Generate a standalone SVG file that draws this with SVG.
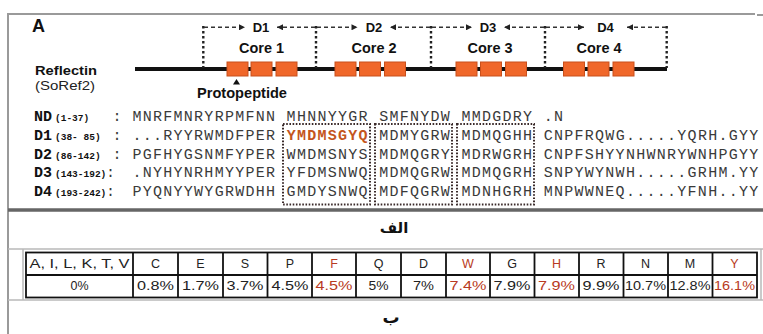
<svg xmlns="http://www.w3.org/2000/svg" width="763" height="334" viewBox="0 0 763 334">
<defs>
<style>
.frame{stroke:#9a9a9a;stroke-width:2;fill:none}
.sep{stroke:#666;stroke-width:3.5}
.thin{stroke:#b8b8b8;stroke-width:1.5}
.lbl{font-family:"Liberation Sans",Arial,sans-serif;font-weight:bold;fill:#111}
.reg{font-family:"Liberation Sans",Arial,sans-serif;fill:#222}
.blk{fill:#f0672a;stroke:#c8501c;stroke-width:1}
.dash{stroke:#333;stroke-width:1.4;stroke-dasharray:4 3;fill:none}
.dot{stroke:#222;stroke-width:2.4;stroke-dasharray:2.4 2.6;fill:none}
.box{stroke:#3a2a2a;stroke-width:2;stroke-dasharray:1.6 1.6;fill:none}
.seq{font-family:"Liberation Mono","Courier New",monospace;font-size:15px;letter-spacing:1.28px;fill:#3a3a3a}
.hl{font-weight:bold;fill:#c4551c}
.rowl{font-family:"Liberation Mono","Courier New",monospace;font-weight:bold;fill:#111}
.cell{stroke:#111;stroke-width:1.8;fill:none}
.tt{font-family:"Liberation Sans",Arial,sans-serif;font-size:12.5px;fill:#222;text-anchor:middle}
.red{fill:#b83a22}
.ar{font-family:"DejaVu Sans","Noto Sans",sans-serif;font-weight:bold;fill:#111}
</style>
<marker id="ah" viewBox="0 0 10 10" refX="10" refY="5" markerWidth="8" markerHeight="6" markerUnits="userSpaceOnUse" orient="auto">
<path d="M0,0 L10,5 L0,10 Z" fill="#222"/>
</marker>
</defs>

<g id="frame">
<line class="frame" x1="8" y1="14" x2="755" y2="14"/>
<line class="frame" x1="757" y1="15" x2="763" y2="15"/>
<line class="frame" x1="8" y1="13" x2="8" y2="334"/>
<line class="sep" x1="8" y1="210" x2="763" y2="210"/>
<line class="thin" x1="8" y1="249" x2="763" y2="249"/>
<line class="thin" x1="8" y1="300" x2="763" y2="300"/>
</g>

<g id="panel-label">
<text class="lbl" x="32" y="32" font-size="18">A</text>
<text class="lbl" x="35" y="74.5" font-size="13" textLength="62" lengthAdjust="spacingAndGlyphs">Reflectin</text>
<text class="reg" x="35" y="90" font-size="13" textLength="60" lengthAdjust="spacingAndGlyphs">(SoRef2)</text>
</g>

<g id="protein-map">
<line x1="135" y1="69" x2="667" y2="69" stroke="#111" stroke-width="4"/>
<rect class="blk" x="227" y="62" width="21" height="14"/>
<rect class="blk" x="251" y="62" width="21" height="14"/>
<rect class="blk" x="276" y="62" width="21" height="14"/>
<rect class="blk" x="335" y="62" width="21" height="14"/>
<rect class="blk" x="359.5" y="62" width="21" height="14"/>
<rect class="blk" x="384.5" y="62" width="21" height="14"/>
<rect class="blk" x="456" y="62" width="21" height="14"/>
<rect class="blk" x="480.5" y="62" width="21" height="14"/>
<rect class="blk" x="505.5" y="62" width="21" height="14"/>
<rect class="blk" x="563.5" y="62" width="21" height="14"/>
<rect class="blk" x="588" y="62" width="21" height="14"/>
<rect class="blk" x="613" y="62" width="21" height="14"/>
<path d="M236.5,79 L240,84.5 L233,84.5 Z" fill="#111"/>
<text class="lbl" x="242" y="98" font-size="14" text-anchor="middle" textLength="90" lengthAdjust="spacingAndGlyphs">Protopeptide</text>
</g>

<g id="domain-labels">
<text class="lbl" x="261" y="31.7" font-size="13" text-anchor="middle">D1</text>
<text class="lbl" x="374" y="31.7" font-size="13" text-anchor="middle">D2</text>
<text class="lbl" x="488" y="31.7" font-size="13" text-anchor="middle">D3</text>
<text class="lbl" x="605.5" y="31.7" font-size="13" text-anchor="middle">D4</text>
<text class="lbl" x="261.5" y="53.3" font-size="14" text-anchor="middle" textLength="45" lengthAdjust="spacingAndGlyphs">Core 1</text>
<text class="lbl" x="374" y="53.3" font-size="14" text-anchor="middle" textLength="45" lengthAdjust="spacingAndGlyphs">Core 2</text>
<text class="lbl" x="490" y="53.3" font-size="14" text-anchor="middle" textLength="45" lengthAdjust="spacingAndGlyphs">Core 3</text>
<text class="lbl" x="599" y="53.3" font-size="14" text-anchor="middle" textLength="45" lengthAdjust="spacingAndGlyphs">Core 4</text>
</g>

<g id="connectors">
<line class="dot" x1="203.3" y1="26" x2="203.3" y2="68"/>
<line class="dot" x1="316" y1="26" x2="316" y2="68"/>
<line class="dot" x1="431" y1="26" x2="431" y2="68"/>
<line class="dot" x1="545" y1="26" x2="545" y2="68"/>
<line class="dot" x1="666.7" y1="26" x2="666.7" y2="68"/>
<line class="dash" x1="204" y1="27.3" x2="245" y2="27.3" marker-end="url(#ah)"/>
<line class="dash" x1="315" y1="27.3" x2="277" y2="27.3" marker-end="url(#ah)"/>
<line class="dash" x1="317" y1="27.3" x2="357.5" y2="27.3" marker-end="url(#ah)"/>
<line class="dash" x1="430" y1="27.3" x2="390" y2="27.3" marker-end="url(#ah)"/>
<line class="dash" x1="432" y1="27.3" x2="472" y2="27.3" marker-end="url(#ah)"/>
<line class="dash" x1="544" y1="27.3" x2="504" y2="27.3" marker-end="url(#ah)"/>
<line class="dash" x1="546" y1="27.3" x2="584" y2="27.3" marker-end="url(#ah)"/>
<line class="dash" x1="666" y1="27.3" x2="627" y2="27.3" marker-end="url(#ah)"/>
</g>

<g id="sequences">
<text class="rowl" x="34" y="121" font-size="15">ND</text><text class="rowl" x="55" y="121" font-size="9.5">(1-37)</text>
<text class="rowl" x="34" y="139.5" font-size="15">D1</text><text class="rowl" x="55" y="139.5" font-size="9.5" xml:space="preserve">(38- 85)</text>
<text class="rowl" x="34" y="158.5" font-size="15">D2</text><text class="rowl" x="55" y="158.5" font-size="9.5">(86-142)</text>
<text class="rowl" x="34" y="177" font-size="15">D3</text><text class="rowl" x="55" y="177" font-size="9.5">(143-192)</text>
<text class="rowl" x="34" y="196" font-size="15">D4</text><text class="rowl" x="55" y="196" font-size="9.5">(193-242)</text>
<text class="seq" x="112.5" y="121">:</text>
<text class="seq" x="112.5" y="139.5">:</text>
<text class="seq" x="112.5" y="158.5">:</text>
<text class="seq" x="106" y="177">:</text>
<text class="seq" x="106" y="196">:</text>
<text class="seq" x="132.4" y="121">MNRFMNRYRPMFNN MHNNYYGR SMFNYDW MMDGDRY .N</text>
<text class="seq" x="132.4" y="139.5">...RYYRWMDFPER <tspan class="hl">YMDMSGYQ</tspan> MDMYGRW MDMQGHH CNPFRQWG.....YQRH.GYY</text>
<text class="seq" x="132.4" y="158.5">PGFHYGSNMFYPER WMDMSNYS MDMQGRY MDRWGRH CNPFSHYYNHWNRYWNHPGYY</text>
<text class="seq" x="132.4" y="177">.NYHYNRHMYYPER YFDMSNWQ MDMQGRW MDMQGRH SNPYWYNWH.....GRHM.YY</text>
<text class="seq" x="132.4" y="196">PYQNYYWYGRWDHH GMDYSNWQ MDFQGRW MDNHGRH MNPWWNEQ.....YFNH..YY</text>
<rect class="box" x="283" y="124" width="87" height="80.5"/>
<rect class="box" x="375" y="124" width="77" height="80.5"/>
<rect class="box" x="457" y="124" width="77" height="80.5"/>
</g>

<g id="caption-a">
<text class="ar" x="394" y="233" font-size="15" text-anchor="middle">الف</text>
</g>

<g id="table">
<line class="thin" x1="23" y1="249" x2="23" y2="300"/>
<line class="thin" x1="761" y1="249" x2="761" y2="300"/>
<rect class="cell" x="26" y="252.5" width="731" height="45"/>
<line class="cell" x1="26" y1="275" x2="757" y2="275"/>
<line class="cell" x1="133" y1="252.5" x2="133" y2="297.5"/>
<line class="cell" x1="178" y1="252.5" x2="178" y2="297.5"/>
<line class="cell" x1="223" y1="252.5" x2="223" y2="297.5"/>
<line class="cell" x1="267.5" y1="252.5" x2="267.5" y2="297.5"/>
<line class="cell" x1="312" y1="252.5" x2="312" y2="297.5"/>
<line class="cell" x1="356" y1="252.5" x2="356" y2="297.5"/>
<line class="cell" x1="401" y1="252.5" x2="401" y2="297.5"/>
<line class="cell" x1="446" y1="252.5" x2="446" y2="297.5"/>
<line class="cell" x1="490" y1="252.5" x2="490" y2="297.5"/>
<line class="cell" x1="534.5" y1="252.5" x2="534.5" y2="297.5"/>
<line class="cell" x1="579" y1="252.5" x2="579" y2="297.5"/>
<line class="cell" x1="623.5" y1="252.5" x2="623.5" y2="297.5"/>
<line class="cell" x1="668" y1="252.5" x2="668" y2="297.5"/>
<line class="cell" x1="712.5" y1="252.5" x2="712.5" y2="297.5"/>
<text class="tt" x="79.5" y="268" textLength="100" lengthAdjust="spacingAndGlyphs">A, I, L, K, T, V</text>
<text class="tt" x="155.5" y="268">C</text>
<text class="tt" x="200.5" y="268">E</text>
<text class="tt" x="245" y="268">S</text>
<text class="tt" x="290" y="268">P</text>
<text class="tt red" x="334" y="268">F</text>
<text class="tt" x="378.5" y="268">Q</text>
<text class="tt" x="423.5" y="268">D</text>
<text class="tt red" x="468" y="268">W</text>
<text class="tt" x="512" y="268">G</text>
<text class="tt red" x="556.5" y="268">H</text>
<text class="tt" x="601" y="268">R</text>
<text class="tt" x="645.5" y="268">N</text>
<text class="tt" x="690" y="268">M</text>
<text class="tt red" x="734.5" y="268">Y</text>
<text class="tt" x="79.5" y="290" textLength="18" lengthAdjust="spacingAndGlyphs">0%</text>
<text class="tt" x="155.5" y="290" textLength="37" lengthAdjust="spacingAndGlyphs">0.8%</text>
<text class="tt" x="200.5" y="290" textLength="37" lengthAdjust="spacingAndGlyphs">1.7%</text>
<text class="tt" x="245" y="290" textLength="37" lengthAdjust="spacingAndGlyphs">3.7%</text>
<text class="tt" x="290" y="290" textLength="37" lengthAdjust="spacingAndGlyphs">4.5%</text>
<text class="tt red" x="334" y="290" textLength="37" lengthAdjust="spacingAndGlyphs">4.5%</text>
<text class="tt" x="378.5" y="290" textLength="20" lengthAdjust="spacingAndGlyphs">5%</text>
<text class="tt" x="423.5" y="290" textLength="21" lengthAdjust="spacingAndGlyphs">7%</text>
<text class="tt red" x="468" y="290" textLength="37" lengthAdjust="spacingAndGlyphs">7.4%</text>
<text class="tt" x="512" y="290" textLength="37" lengthAdjust="spacingAndGlyphs">7.9%</text>
<text class="tt red" x="556.5" y="290" textLength="37" lengthAdjust="spacingAndGlyphs">7.9%</text>
<text class="tt" x="601" y="290" textLength="37" lengthAdjust="spacingAndGlyphs">9.9%</text>
<text class="tt" x="645.5" y="290" textLength="41" lengthAdjust="spacingAndGlyphs">10.7%</text>
<text class="tt" x="690" y="290" textLength="41" lengthAdjust="spacingAndGlyphs">12.8%</text>
<text class="tt red" x="734.5" y="290" textLength="41" lengthAdjust="spacingAndGlyphs">16.1%</text>
</g>

<g id="caption-b">
<text class="ar" x="391" y="323" font-size="17" text-anchor="middle">ب</text>
</g>
</svg>
